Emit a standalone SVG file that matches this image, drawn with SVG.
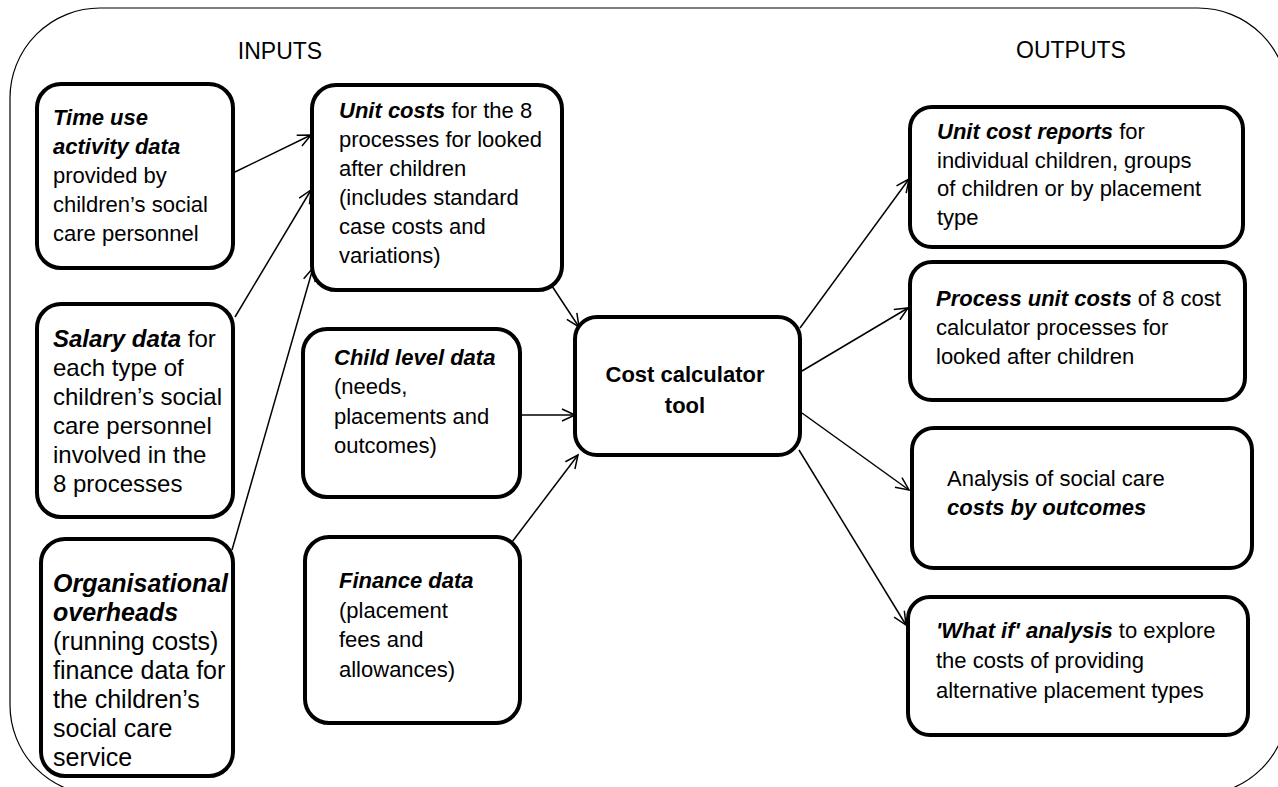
<svg xmlns="http://www.w3.org/2000/svg" width="1278" height="787" viewBox="0 0 1278 787">
<style>
.frame{fill:none;stroke:#000;stroke-width:1.2}
.box{fill:#fff;stroke:#000;stroke-width:4}
.t{font-family:"Liberation Sans",Arial,sans-serif;font-size:22px;fill:#000}
.mid{font-size:24px}
.big{font-size:25px}
.h{font-family:"Liberation Sans",Arial,sans-serif;font-size:23px;fill:#000;text-anchor:middle}
.bi{font-weight:bold;font-style:italic}
.b{font-weight:bold}
.c{fill:none;stroke:#000;stroke-width:1.5;marker-end:url(#arr)}
</style>
<defs>
<marker id="arr" markerUnits="userSpaceOnUse" markerWidth="16" markerHeight="14" refX="14" refY="7" orient="auto">
<path d="M1,1 L14,7 L1,13" fill="none" stroke="#000" stroke-width="1.5"/>
</marker>
</defs>
<rect class="frame" x="10" y="8" width="1278" height="787" rx="90"/>
<text class="h" x="280" y="59">INPUTS</text>
<text class="h" x="1071" y="58">OUTPUTS</text>
<g id="connectors">
<line class="c" x1="235" y1="172" x2="311" y2="135"/>
<line class="c" x1="235" y1="317" x2="311" y2="190"/>
<line class="c" x1="232" y1="550" x2="313" y2="268"/>
<line class="c" x1="550" y1="283" x2="579" y2="327"/>
<line class="c" x1="520" y1="415" x2="575" y2="415"/>
<line class="c" x1="512" y1="542" x2="578" y2="455"/>
<line class="c" x1="800" y1="328" x2="909" y2="179"/>
<line class="c" x1="802" y1="371" x2="908" y2="308"/>
<line class="c" x1="802" y1="413" x2="909" y2="490"/>
<line class="c" x1="799" y1="450" x2="906" y2="625"/>
</g>
<g id="time-use">
<rect class="box" x="37" y="84" width="196" height="184" rx="24"/>
<text class="t" x="53" y="125"><tspan class="bi">Time use</tspan><tspan x="53" dy="29" class="bi">activity data</tspan><tspan x="53" dy="29">provided by</tspan><tspan x="53" dy="29">children’s social</tspan><tspan x="53" dy="29">care personnel</tspan></text>
</g>
<g id="salary">
<rect class="box" x="37" y="304" width="196" height="213" rx="24"/>
<text class="t mid" x="53" y="347"><tspan class="bi">Salary data</tspan> for<tspan x="53" dy="29">each type of</tspan><tspan x="53" dy="29">children’s social</tspan><tspan x="53" dy="29">care personnel</tspan><tspan x="53" dy="29">involved in the</tspan><tspan x="53" dy="29">8 processes</tspan></text>
</g>
<g id="overheads">
<rect class="box" x="41" y="539" width="192" height="237" rx="24"/>
<text class="t big" x="53" y="592"><tspan class="bi">Organisational</tspan><tspan x="53" dy="29" class="bi">overheads</tspan><tspan x="53" dy="29">(running costs)</tspan><tspan x="53" dy="29">finance data for</tspan><tspan x="53" dy="29">the children’s</tspan><tspan x="53" dy="29">social care</tspan><tspan x="53" dy="29">service</tspan></text>
</g>
<g id="unit-costs">
<rect class="box" x="312" y="85" width="250" height="205" rx="24"/>
<text class="t" x="339" y="118"><tspan class="bi">Unit costs</tspan> for the 8<tspan x="339" dy="29">processes for looked</tspan><tspan x="339" dy="29">after children</tspan><tspan x="339" dy="29">(includes standard</tspan><tspan x="339" dy="29">case costs and</tspan><tspan x="339" dy="29">variations)</tspan></text>
</g>
<g id="child-level">
<rect class="box" x="303" y="329" width="217" height="168" rx="24"/>
<text class="t" x="334" y="365"><tspan class="bi">Child level data</tspan><tspan x="334" dy="29.3">(needs,</tspan><tspan x="334" dy="29.3">placements and</tspan><tspan x="334" dy="29.3">outcomes)</tspan></text>
</g>
<g id="finance">
<rect class="box" x="305" y="537" width="215" height="186" rx="24"/>
<text class="t" x="339" y="588"><tspan class="bi">Finance data</tspan><tspan x="339" dy="29.5">(placement</tspan><tspan x="339" dy="29.5">fees and</tspan><tspan x="339" dy="29.5">allowances)</tspan></text>
</g>
<g id="cost-calculator">
<rect class="box" x="575" y="317" width="225" height="138" rx="22"/>
<text class="t b" x="685" y="382" text-anchor="middle">Cost calculator<tspan x="685" dy="31">tool</tspan></text>
</g>
<g id="unit-cost-reports">
<rect class="box" x="910" y="107" width="333" height="140" rx="22"/>
<text class="t" x="937" y="139"><tspan class="bi">Unit cost reports</tspan> for<tspan x="937" dy="28.7">individual children, groups</tspan><tspan x="937" dy="28.7">of children or by placement</tspan><tspan x="937" dy="28.7">type</tspan></text>
</g>
<g id="process-unit-costs">
<rect class="box" x="910" y="262" width="335" height="138" rx="22"/>
<text class="t" x="936" y="306"><tspan class="bi">Process unit costs</tspan> of 8 cost<tspan x="936" dy="29">calculator processes for</tspan><tspan x="936" dy="29">looked after children</tspan></text>
</g>
<g id="analysis">
<rect class="box" x="912" y="428" width="340" height="140" rx="22"/>
<text class="t" x="947" y="486">Analysis of social care<tspan x="947" dy="29" class="bi">costs by outcomes</tspan></text>
</g>
<g id="what-if">
<rect class="box" x="908" y="597" width="340" height="138" rx="22"/>
<text class="t" x="936" y="638"><tspan class="bi">'What if' analysis</tspan> to explore<tspan x="936" dy="30">the costs of providing</tspan><tspan x="936" dy="30">alternative placement types</tspan></text>
</g>
</svg>
